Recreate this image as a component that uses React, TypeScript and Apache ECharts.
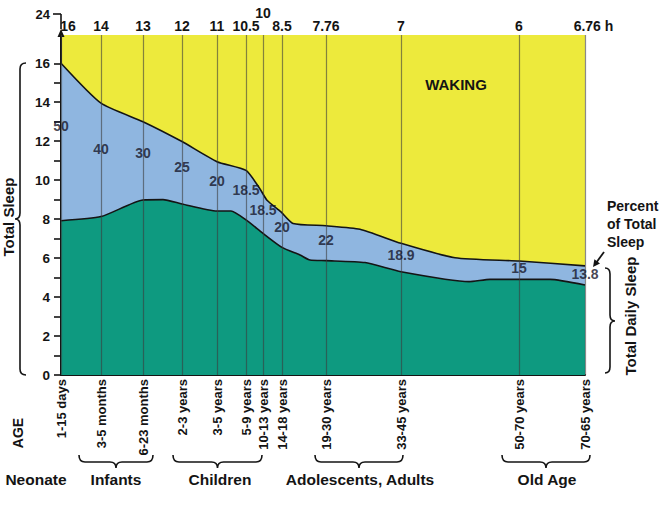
import React, { useEffect, useRef } from "react";
import * as echarts from "echarts";

// ---- data ----
const agePos = [0, 40, 82, 121, 156, 185, 202, 221, 265, 340, 458, 524];
const ageLabels = [
  "1-15 days", "3-5 months", "6-23 months", "2-3 years", "3-5 years", "5-9 years",
  "10-13 years", "14-18 years", "19-30 years", "33-45 years", "50-70 years", "70-65 years",
];
const hourLabels = ["16", "14", "13", "12", "11", "10.5", "10", "8.5", "7.76", "7", "6", "6.76 h"];
const remPercent = [50, 40, 30, 25, 20, 18.5, 18.5, 20, 22, 18.9, 15, 13.8];

const totalX = [0, 40, 82, 121, 156, 185, 199, 206, 220, 232, 265, 299, 340, 394, 458, 524];
const totalHours = [16, 13.95, 13.0, 11.98, 10.95, 10.5, 9.55, 8.97, 8.37, 7.78, 7.66, 7.48, 6.76, 6.02, 5.85, 5.6];

const nremX = [0, 40, 82, 102, 121, 156, 170, 185, 202, 221, 239, 249, 265, 304, 340, 408, 429, 458, 489, 524];
const nremHours = [7.92, 8.13, 8.98, 9.0, 8.78, 8.42, 8.42, 7.96, 7.27, 6.55, 6.16, 5.9, 5.87, 5.77, 5.3, 4.79, 4.91, 4.91, 4.91, 4.62];

const hourTicks = [0, 1, 2, 3, 4, 5, 6, 7, 8, 9, 10, 11, 12, 13, 14, 15, 16];
const hourTickLabels = [0, 2, 4, 6, 8, 10, 12, 14, 16];
const dayHoursLabel = "24";
const groupLabels = ["Neonate", "Infants", "Children", "Adolescents, Adults", "Old Age"];

// ---- styles ----
const FONT = '"Liberation Sans", Arial, Helvetica, sans-serif';
const YELLOW = "#EDEA3C";
const BLUE = "#8FB6E0";
const GREEN = "#0E9A80";
const INK = "#141414";
const Y_TOP = 17.45;

function interp(xs: number[], ys: number[], x: number): number {
  for (let i = 0; i < xs.length - 1; i++) {
    if (x >= xs[i] && x <= xs[i + 1]) {
      const t = (x - xs[i]) / (xs[i + 1] - xs[i] || 1);
      return ys[i] + t * (ys[i + 1] - ys[i]);
    }
  }
  return ys[ys.length - 1];
}

function hBrace(x1: number, x2: number, yTip: number, ySpine: number, yPoint: number, r: number) {
  const xm = (x1 + x2) / 2;
  return `M${x1} ${yTip} Q${x1} ${ySpine} ${x1 + r} ${ySpine} L${xm - r} ${ySpine} Q${xm} ${ySpine} ${xm} ${yPoint} Q${xm} ${ySpine} ${xm + r} ${ySpine} L${x2 - r} ${ySpine} Q${x2} ${ySpine} ${x2} ${yTip}`;
}
function vBrace(y1: number, y2: number, xTip: number, xSpine: number, xPoint: number, ym: number, r: number) {
  return `M${xTip} ${y1} Q${xSpine} ${y1} ${xSpine} ${y1 + r} L${xSpine} ${ym - r} Q${xSpine} ${ym} ${xPoint} ${ym} Q${xSpine} ${ym} ${xSpine} ${ym + r} L${xSpine} ${y2 - r} Q${xSpine} ${y2} ${xTip} ${y2}`;
}

const braces: Record<string, string> = {
  braceInfants: hBrace(79, 153, 455, 462, 468, 6),
  braceChildren: hBrace(173, 262, 455, 462, 468, 6),
  braceAdults: hBrace(315, 403, 455, 462, 468, 6),
  braceOld: hBrace(502, 590, 455, 462, 468, 6),
  braceLeft: vBrace(63, 375, 26, 20, 15, 219, 6),
  braceRight: vBrace(268, 373, 605, 610, 615, 321, 6),
};
Object.keys(braces).forEach((k) => {
  echarts.graphic.registerShape(k, echarts.graphic.extendPath(braces[k], {}) as any);
});

function txt(text: string, x: number, y: number, size: number, extra: any = {}) {
  return {
    type: "text",
    x,
    y,
    rotation: extra.rotation || 0,
    silent: true,
    style: {
      text,
      fontSize: size,
      fontWeight: "bold",
      fontFamily: FONT,
      fill: extra.fill || INK,
      align: extra.align || "center",
      textAlign: extra.align || "center",
      verticalAlign: extra.va || "middle",
      textVerticalAlign: extra.va || "middle",
      lineHeight: extra.lineHeight,
    },
  };
}

export default function App() {
  const ref = useRef<HTMLDivElement>(null);

  useEffect(() => {
    if (!ref.current) return;
    const chart = echarts.init(ref.current, undefined, { renderer: "svg" });

    const remLabels = agePos.map((x, i) => {
      const t = interp(totalX, totalHours, x);
      const n = interp(nremX, nremHours, x);
      return [x, n + (t - n) * 0.6, remPercent[i]];
    });

    const groupX = [36, 116, 220, 360, 547];

    const graphic: any[] = [
      ...Object.keys(braces).map((k) => ({
        type: k,
        x: 0,
        y: 0,
        silent: true,
        style: { stroke: INK, lineWidth: 1.6, fill: "none" },
      })),
      // y-axis break to 24 h
      { type: "line", silent: true, shape: { x1: 53, y1: 14, x2: 61, y2: 14 }, style: { stroke: INK, lineWidth: 1.6 } },
      { type: "line", silent: true, shape: { x1: 61, y1: 14, x2: 61, y2: 29 }, style: { stroke: INK, lineWidth: 1.6 } },
      { type: "polygon", silent: true, shape: { points: [[61, 29], [57.5, 37], [64.5, 37]] }, style: { fill: INK } },
      txt(dayHoursLabel, 50, 14, 13, { align: "right" }),
      // annotations
      txt("WAKING", 456, 84, 15),
      txt("REM SLEEP", 130, 188, 15),
      txt("NREM SLEEP", 240, 323, 15),
      txt("Total Sleep", 8, 217, 15, { rotation: Math.PI / 2 }),
      txt("Total Daily Sleep", 630, 316, 15, { rotation: Math.PI / 2 }),
      txt("Percent\nof Total\nSleep", 607, 197, 14, { align: "left", va: "top", lineHeight: 18 }),
      { type: "line", silent: true, shape: { x1: 604, y1: 252, x2: 596, y2: 263 }, style: { stroke: INK, lineWidth: 1.8 } },
      { type: "polygon", silent: true, shape: { points: [[593, 267], [600, 263.5], [594.4, 259.3]] }, style: { fill: INK } },
      txt("AGE", 18, 433, 14, { rotation: Math.PI / 2 }),
      ...groupLabels.map((g, i) => txt(g, groupX[i], 479, 15.5)),
    ];

    chart.setOption({
      animation: false,
      grid: {
        left: 61,
        right: 80,
        top: 35,
        bottom: 134,
        show: true,
        backgroundColor: YELLOW,
        borderWidth: 0,
      },
      xAxis: [
        {
          type: "value",
          min: 0,
          max: 524,
          position: "bottom",
          axisLine: { show: true, lineStyle: { color: INK, width: 2 } },
          axisTick: { show: false },
          splitLine: { show: false },
          axisLabel: {
            customValues: agePos,
            rotate: 90,
            margin: 4,
            fontSize: 13,
            fontWeight: "bold",
            fontFamily: FONT,
            color: INK,
            formatter: (v: number) => ageLabels[agePos.indexOf(v)] ?? "",
          },
        },
        {
          type: "value",
          min: 0,
          max: 524,
          position: "top",
          axisLine: { show: false },
          axisTick: { show: false },
          splitLine: { show: false },
          axisLabel: {
            customValues: agePos,
            margin: 2,
            fontSize: 14,
            fontWeight: "bold",
            fontFamily: FONT,
            color: INK,
            formatter: (v: number) => {
              const i = agePos.indexOf(v);
              if (i === 0) return `{first|${hourLabels[i]}}`;
              if (i === 6) return `{up|${hourLabels[i]}}`;
              if (i === hourLabels.length - 1) return `{last|${hourLabels[i]}}`;
              return hourLabels[i] ?? "";
            },
            rich: {
              first: { fontSize: 14, fontWeight: "bold", fontFamily: FONT, color: INK, padding: [0, 0, 0, 14] },
              up: { fontSize: 14, fontWeight: "bold", fontFamily: FONT, color: INK, padding: [0, 0, 13, 0] },
              last: { fontSize: 14, fontWeight: "bold", fontFamily: FONT, color: INK, padding: [0, 0, 0, 17] },
            },
          },
        },
      ],
      yAxis: {
        type: "value",
        min: 0,
        max: Y_TOP,
        axisLine: { show: true, lineStyle: { color: INK, width: 2 } },
        axisTick: { show: true, customValues: hourTicks, length: 7, lineStyle: { color: INK, width: 1.6 } },
        splitLine: { show: false },
        axisLabel: {
          customValues: hourTickLabels,
          margin: 11,
          fontSize: 13.5,
          fontWeight: "bold",
          fontFamily: FONT,
          color: INK,
        },
      },
      graphic,
      series: [
        {
          type: "line",
          name: "Total sleep",
          data: totalX.map((x, i) => [x, totalHours[i]]),
          symbol: "none",
          smooth: 0.2,
          lineStyle: { color: INK, width: 1.6 },
          areaStyle: { color: BLUE, opacity: 1, origin: "start" },
          z: 2,
          silent: true,
        },
        {
          type: "line",
          name: "NREM sleep",
          data: nremX.map((x, i) => [x, nremHours[i]]),
          symbol: "none",
          smooth: 0.2,
          lineStyle: { color: INK, width: 1.6 },
          areaStyle: { color: GREEN, opacity: 1, origin: "start" },
          z: 3,
          silent: true,
          markLine: {
            silent: true,
            symbol: ["none", "none"],
            label: { show: false },
            lineStyle: { color: "rgba(60,60,60,0.6)", width: 1.2, type: "solid" },
            data: agePos.map((x) => ({ xAxis: x })),
          },
        },
        {
          type: "scatter",
          name: "REM percent",
          data: remLabels,
          symbolSize: 0,
          silent: true,
          z: 6,
          label: {
            show: true,
            position: "inside",
            fontSize: 14,
            fontWeight: "bold",
            fontFamily: FONT,
            color: "#16162a",
            formatter: (p: any) => String(p.value[2]),
          },
        },
      ],
    });

    return () => chart.dispose();
  }, []);

  return (
    <div
      ref={ref}
      style={{ position: "fixed", left: 0, top: 0, width: 665, height: 509, background: "#fff" }}
    />
  );
}
